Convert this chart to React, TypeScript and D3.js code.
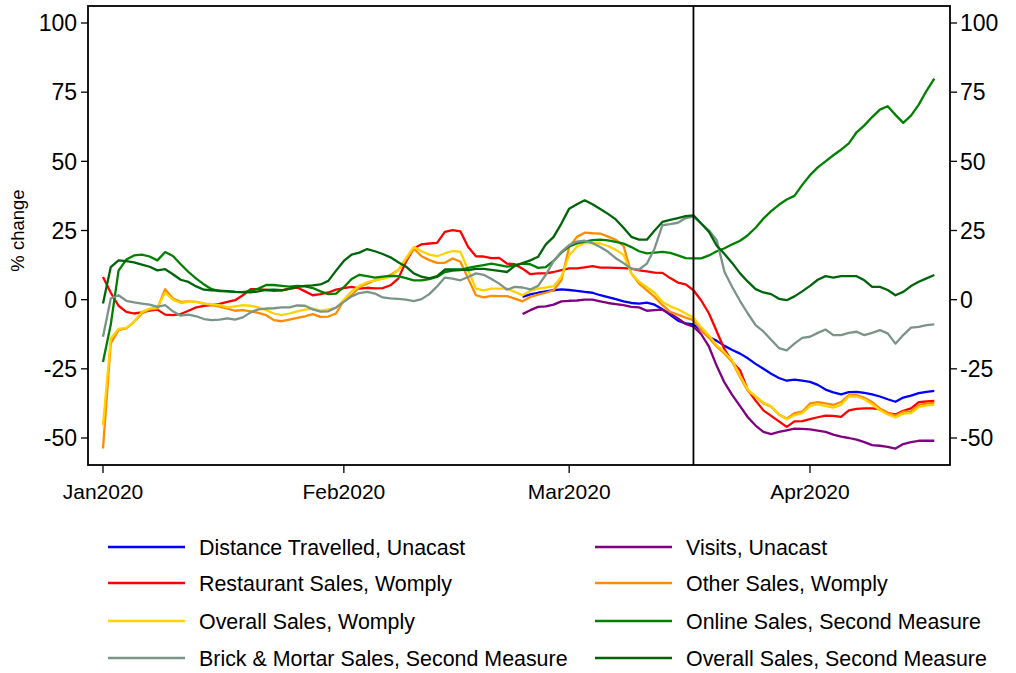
import React from "react";
import * as d3 from "d3";

// ---- Data (daily, % change) ----
const fullStart = "2020-01-01";
const unacastStart = "2020-02-24";
const policyDate = "2020-03-17";

const distanceTravelled = [1, 1.9, 2.5, 3, 3.4, 3.7, 3.5, 3.2, 2.8, 2.5,
  1.6, 0.9, 0.2, -0.6, -1.2, -1.4, -1.1, -1.8, -3.5, -5.5,
  -7.6, -8.6, -8.9, -11.2, -13.5, -14.9, -16.7, -18.2, -19.5, -21.2,
  -23.2, -25, -26.8, -28.3, -29.3, -28.9, -29.3, -29.7, -30.8, -32.5,
  -33.5, -34.2, -33.4, -33.3, -33.7, -34.2, -35, -36, -36.9, -35.4,
  -34.7, -33.8, -33.3, -33];

const visits = [-5.2, -3.8, -2.6, -2.4, -1.8, -0.6, -0.4, -0.3, 0, 0,
  -0.6, -1.2, -1.6, -2, -2.6, -2.8, -4, -3.8, -3.6, -5,
  -6.8, -8.8, -9.8, -12.5, -17, -24, -30, -34.5, -38.5, -42.5,
  -45.5, -47.8, -48.6, -47.8, -47.2, -46.6, -46.7, -46.9, -47.3, -47.8,
  -48.8, -49.5, -50, -50.6, -51.5, -52.6, -52.8, -53.2, -53.8, -52.2,
  -51.5, -51, -51, -51];

const restaurantSales = [8.2, 2.5, -2.2, -4.4, -5, -4.6, -4, -3.6, -5.4, -5.6,
  -5.2, -4, -2.8, -2.2, -2, -1.5, -0.8, -0.2, 1.6, 3.8,
  3.8, 3.5, 3.2, 3.4, 4, 4.4, 3, 1.6, 2, 2.6,
  3.6, 4.2, 4.6, 4, 4.3, 4.1, 4.2, 5.2, 7.6, 13.7,
  18.5, 20, 20.3, 20.5, 24.5, 25.1, 24.7, 19, 15.7, 15.6,
  15, 15.1, 13, 12.8, 11.2, 9.2, 9.5, 9.5, 10, 10.7,
  11.3, 11.3, 11.7, 12.1, 11.6, 11.6, 11.5, 11.4, 11.2, 10.6,
  10.2, 9.8, 9.7, 7.8, 6.2, 5.5, 3.4, -0.3, -5, -11.5,
  -18, -22.5, -25.5, -32.7, -36.5, -40, -42, -44, -46, -44,
  -43.9, -43.2, -42.5, -41.9, -42, -42.4, -40, -39.5, -39.3, -39.3,
  -39.6, -41, -41.5, -40.2, -39.3, -37, -36.8, -36.6];

const otherSales = [-53.8, -15.8, -11, -10.4, -8, -5, -3.5, -3.2, 3.8, 0.4,
  -0.8, -0.6, -0.8, -1.4, -2, -2.5, -3.2, -4, -3.8, -4.2,
  -4.8, -5.6, -7.4, -7.8, -7.2, -6.6, -6, -5.2, -6.2, -6.1,
  -5, -0.2, 1.6, 4.6, 5.8, 7, 7.8, 8.9, 10.7, 14.5,
  18.5, 15.7, 14.3, 13.3, 13.3, 14.9, 13.7, 7.6, 1.6, 0.8,
  1.4, 1.3, 1.3, 0.4, -0.6, 1, 1.8, 2.5, 3.4, 7,
  19, 22.7, 24.2, 24, 23.9, 22.8, 21.6, 19.5, 9.5, 5.8,
  3.4, 1, -2, -4.4, -5.4, -6.5, -7.4, -11, -13.8, -17,
  -19.5, -22.5, -28, -33, -35, -37.5, -38.7, -41.5, -43, -41,
  -40.5, -37.5, -37, -37.5, -38, -37, -34.5, -34.5, -35.5, -37,
  -39.3, -40.8, -42, -40.5, -40.5, -38, -37.6, -37.3];

const overallWomply = [-45.4, -14, -10.6, -10.2, -8, -4.4, -3.2, -2.8, 2.5, 0,
  -1.2, -0.8, -0.8, -1.4, -1.6, -2, -2.8, -2.4, -2, -2.2,
  -2.8, -3.8, -5, -5.6, -5, -4.2, -3.6, -3.2, -4, -3.5,
  -3, 0, 3, 5, 6.3, 7, 7.5, 8.4, 10.7, 15,
  19.1, 17.5, 16.3, 15.7, 16.7, 17.6, 17.3, 10.7, 4, 3.4,
  4, 4, 4, 2.8, 1.6, 3.2, 4, 4.4, 4.9, 8.3,
  16, 19.1, 20.5, 20.4, 20.3, 19.4, 18, 16.2, 9.5, 6.5,
  4.5, 2.5, -0.8, -2.4, -3.5, -5, -6.5, -10, -13, -16.5,
  -19, -22, -27.5, -32.5, -35, -37.2, -38.5, -41.5, -43.2, -41.8,
  -41, -38.5, -37.8, -38.5, -39, -38, -35, -35, -36, -37.8,
  -40, -41.5, -42.6, -41.2, -41, -38.8, -38.2, -38];

const onlineSales = [-22.5, -9, 10.5, 14.5, 16, 16.3, 15.6, 14.2, 17.2, 15.8,
  12.8, 10, 7.6, 5.5, 3.8, 3.1, 3, 2.8, 2.7, 3.2,
  4, 5.3, 5.3, 5, 4.7, 5, 4.8, 4.2, 3, 2,
  2.2, 4.5, 7.5, 9, 8.5, 8, 8.3, 8.6, 8.5, 7.8,
  7, 7, 7.4, 8.2, 10, 10.5, 10.7, 11.5, 12, 12.5,
  13, 12.5, 11.9, 12.5, 13, 12.8, 11.5, 11.8, 14, 17,
  19.2, 20.3, 21, 21.5, 21.7, 21.4, 20.9, 20.3, 19, 17.5,
  16.7, 17, 17.3, 16.9, 16, 15, 14.9, 14.9, 16, 17.5,
  18.6, 20, 21.3, 23.3, 26, 29.3, 32, 34.3, 36.2, 37.5,
  41.5, 45, 47.8, 50, 52.2, 54.2, 56.5, 60.5, 63, 66,
  68.7, 69.9, 66.8, 63.9, 66.5, 70.5, 75.5, 79.9];

const brickMortarSales = [-13.4, 0.4, 1.6, -0.4, -1, -1.4, -1.8, -2.6, -2, -4.2,
  -5.8, -5.4, -6, -7, -7.4, -7.2, -6.8, -7.2, -6.4, -4.6,
  -3.5, -3.2, -3.1, -2.8, -2.8, -2.1, -2.2, -3.5, -4.3, -4.2,
  -2.8, -0.8, 1.2, 2.4, 2.8, 2.2, 0.8, 0.5, 0.3, 0,
  -0.5, 0.2, 2, 4.8, 8, 7.6, 7, 8.2, 9.5, 9,
  7.5, 5.8, 3.6, 4.6, 4.4, 3.7, 5, 9, 14, 17.3,
  19.7, 21, 21.3, 20.5, 19, 17.3, 15, 13.2, 11.2, 10.9,
  13, 18.5, 26.9, 27.3, 27.8, 29.5, 30, 27.5, 25, 21.5,
  10, 4.5, -0.5, -5, -9.2, -11.5, -14.5, -17.5, -18.3, -15.9,
  -13.8, -13.4, -12, -10.8, -12.8, -12.8, -12, -11.6, -12.8, -12,
  -11, -12.2, -15.9, -12.8, -10.1, -9.8, -9.2, -8.9];

const overallSecondMeasure = [-1.4, 11.8, 14.2, 13.9, 13.5, 12.7, 11.9, 10.6, 11, 9.2,
  7.2, 6.4, 4.8, 3.6, 3.4, 3.3, 3.1, 2.8, 2.7, 2.6,
  3, 3.5, 3.6, 3.4, 3.9, 4.6, 5, 5.2, 5.5, 6.8,
  10.5, 14, 16.3, 17, 18.3, 17.5, 16.5, 15.3, 13.5, 11.9,
  9.5, 8.3, 7.7, 8.5, 10.9, 10.9, 10.9, 10.7, 11.1, 11.1,
  10.8, 10.4, 10, 12.2, 13.2, 14.2, 15.5, 20, 22.7, 27.5,
  32.9, 34.5, 35.9, 34.5, 32.8, 31, 29, 26, 22.7, 21.7,
  21.7, 25, 28.1, 28.8, 29.5, 30.2, 30.5, 27.5, 24.5, 19.5,
  16.5, 13.2, 9.5, 6.5, 3.8, 2.6, 2, 0.3, -0.2, 1.2,
  3, 5, 7.2, 8.5, 8, 8.5, 8.5, 8.5, 7, 4.6,
  4.6, 3.5, 1.6, 2.8, 4.9, 6.5, 7.7, 8.9];

const yTicks = [-50, -25, 0, 25, 50, 75, 100];
const xTickDates = ["2020-01-01", "2020-02-01", "2020-03-01", "2020-04-01"];
const xTickLabels = ["Jan2020", "Feb2020", "Mar2020", "Apr2020"];

const seriesNames = [
  "Distance Travelled, Unacast",
  "Visits, Unacast",
  "Restaurant Sales, Womply",
  "Other Sales, Womply",
  "Overall Sales, Womply",
  "Online Sales, Second Measure",
  "Brick & Mortar Sales, Second Measure",
  "Overall Sales, Second Measure",
];
const seriesColors = ["#0000ff", "#800080", "#ff0000", "#ff8c00", "#ffd200", "#008000", "#7a9488", "#00640a"];
const seriesValues = [distanceTravelled, visits, restaurantSales, otherSales, overallWomply, onlineSales, brickMortarSales, overallSecondMeasure];
const seriesStarts = [unacastStart, unacastStart, fullStart, fullStart, fullStart, fullStart, fullStart, fullStart];

const parse = d3.utcParse("%Y-%m-%d");
const FONT = "'Liberation Sans', Arial, Helvetica, sans-serif";

export default function App() {
  const W = 1016, H = 673;
  const frame = { left: 88, right: 950, top: 6, bottom: 465 };

  const x = d3.scaleUtc()
    .domain([parse("2020-01-01")!, parse("2020-04-01")!])
    .range([103, 810]);
  const y = d3.scaleLinear().domain([-50, 100]).range([438, 23]);

  const series = seriesValues.map((vals, i) => {
    const s = parse(seriesStarts[i])!;
    return vals.map((v, k) => ({ date: d3.utcDay.offset(s, k), v }));
  });

  const line = d3.line<{ date: Date; v: number }>()
    .x((d) => x(d.date))
    .y((d) => y(d.v));

  const policyX = x(parse(policyDate)!);
  const legendCols = [108, 595];
  const legendRows = [547, 583, 621, 658];

  return (
    <svg width={W} height={H} style={{ position: "absolute", left: 0, top: 0, background: "#fff" }} fontFamily={FONT}>
      <rect x={0} y={0} width={W} height={H} fill="#fff" />
      {/* series */}
      <g fill="none" strokeWidth={2.3} strokeLinejoin="round">
        {series.map((s, i) => (
          <path key={i} d={line(s) || ""} stroke={seriesColors[i]} />
        ))}
      </g>
      {/* policy line */}
      <line x1={policyX} x2={policyX} y1={frame.top} y2={frame.bottom} stroke="#000" strokeWidth={1.8} />
      {/* frame */}
      <rect x={frame.left} y={frame.top} width={frame.right - frame.left} height={frame.bottom - frame.top}
        fill="none" stroke="#000" strokeWidth={1.8} />
      {/* left and right axes */}
      {yTicks.map((t) => (
        <g key={"l" + t}>
          <line x1={frame.left - 7} x2={frame.left} y1={y(t)} y2={y(t)} stroke="#000" strokeWidth={1.3} />
          <text x={frame.left - 11} y={y(t)} dy="0.36em" textAnchor="end" fontSize={23} fill="#000">{t}</text>
          <line x1={frame.right} x2={frame.right + 7} y1={y(t)} y2={y(t)} stroke="#000" strokeWidth={1.3} />
          <text x={frame.right + 10} y={y(t)} dy="0.36em" textAnchor="start" fontSize={23} fill="#000">{t}</text>
        </g>
      ))}
      <text transform={`translate(24,${y(25)}) rotate(-90)`} textAnchor="middle" fontSize={18.5} fill="#000">% change</text>
      {/* bottom axis */}
      {xTickDates.map((d, i) => {
        const xx = x(parse(d)!);
        return (
          <g key={d}>
            <line x1={xx} x2={xx} y1={frame.bottom} y2={frame.bottom + 8} stroke="#000" strokeWidth={1.3} />
            <text x={xx} y={frame.bottom + 34} textAnchor="middle" fontSize={21} fill="#000">{xTickLabels[i]}</text>
          </g>
        );
      })}
      {/* legend */}
      {seriesNames.map((name, i) => {
        const cx = legendCols[i % 2];
        const cy = legendRows[Math.floor(i / 2)];
        return (
          <g key={name}>
            <line x1={cx} x2={cx + 77} y1={cy} y2={cy} stroke={seriesColors[i]} strokeWidth={2.3} />
            <text x={cx + 91} y={cy} dy="0.36em" fontSize={21.4} fill="#000">{name}</text>
          </g>
        );
      })}
    </svg>
  );
}
